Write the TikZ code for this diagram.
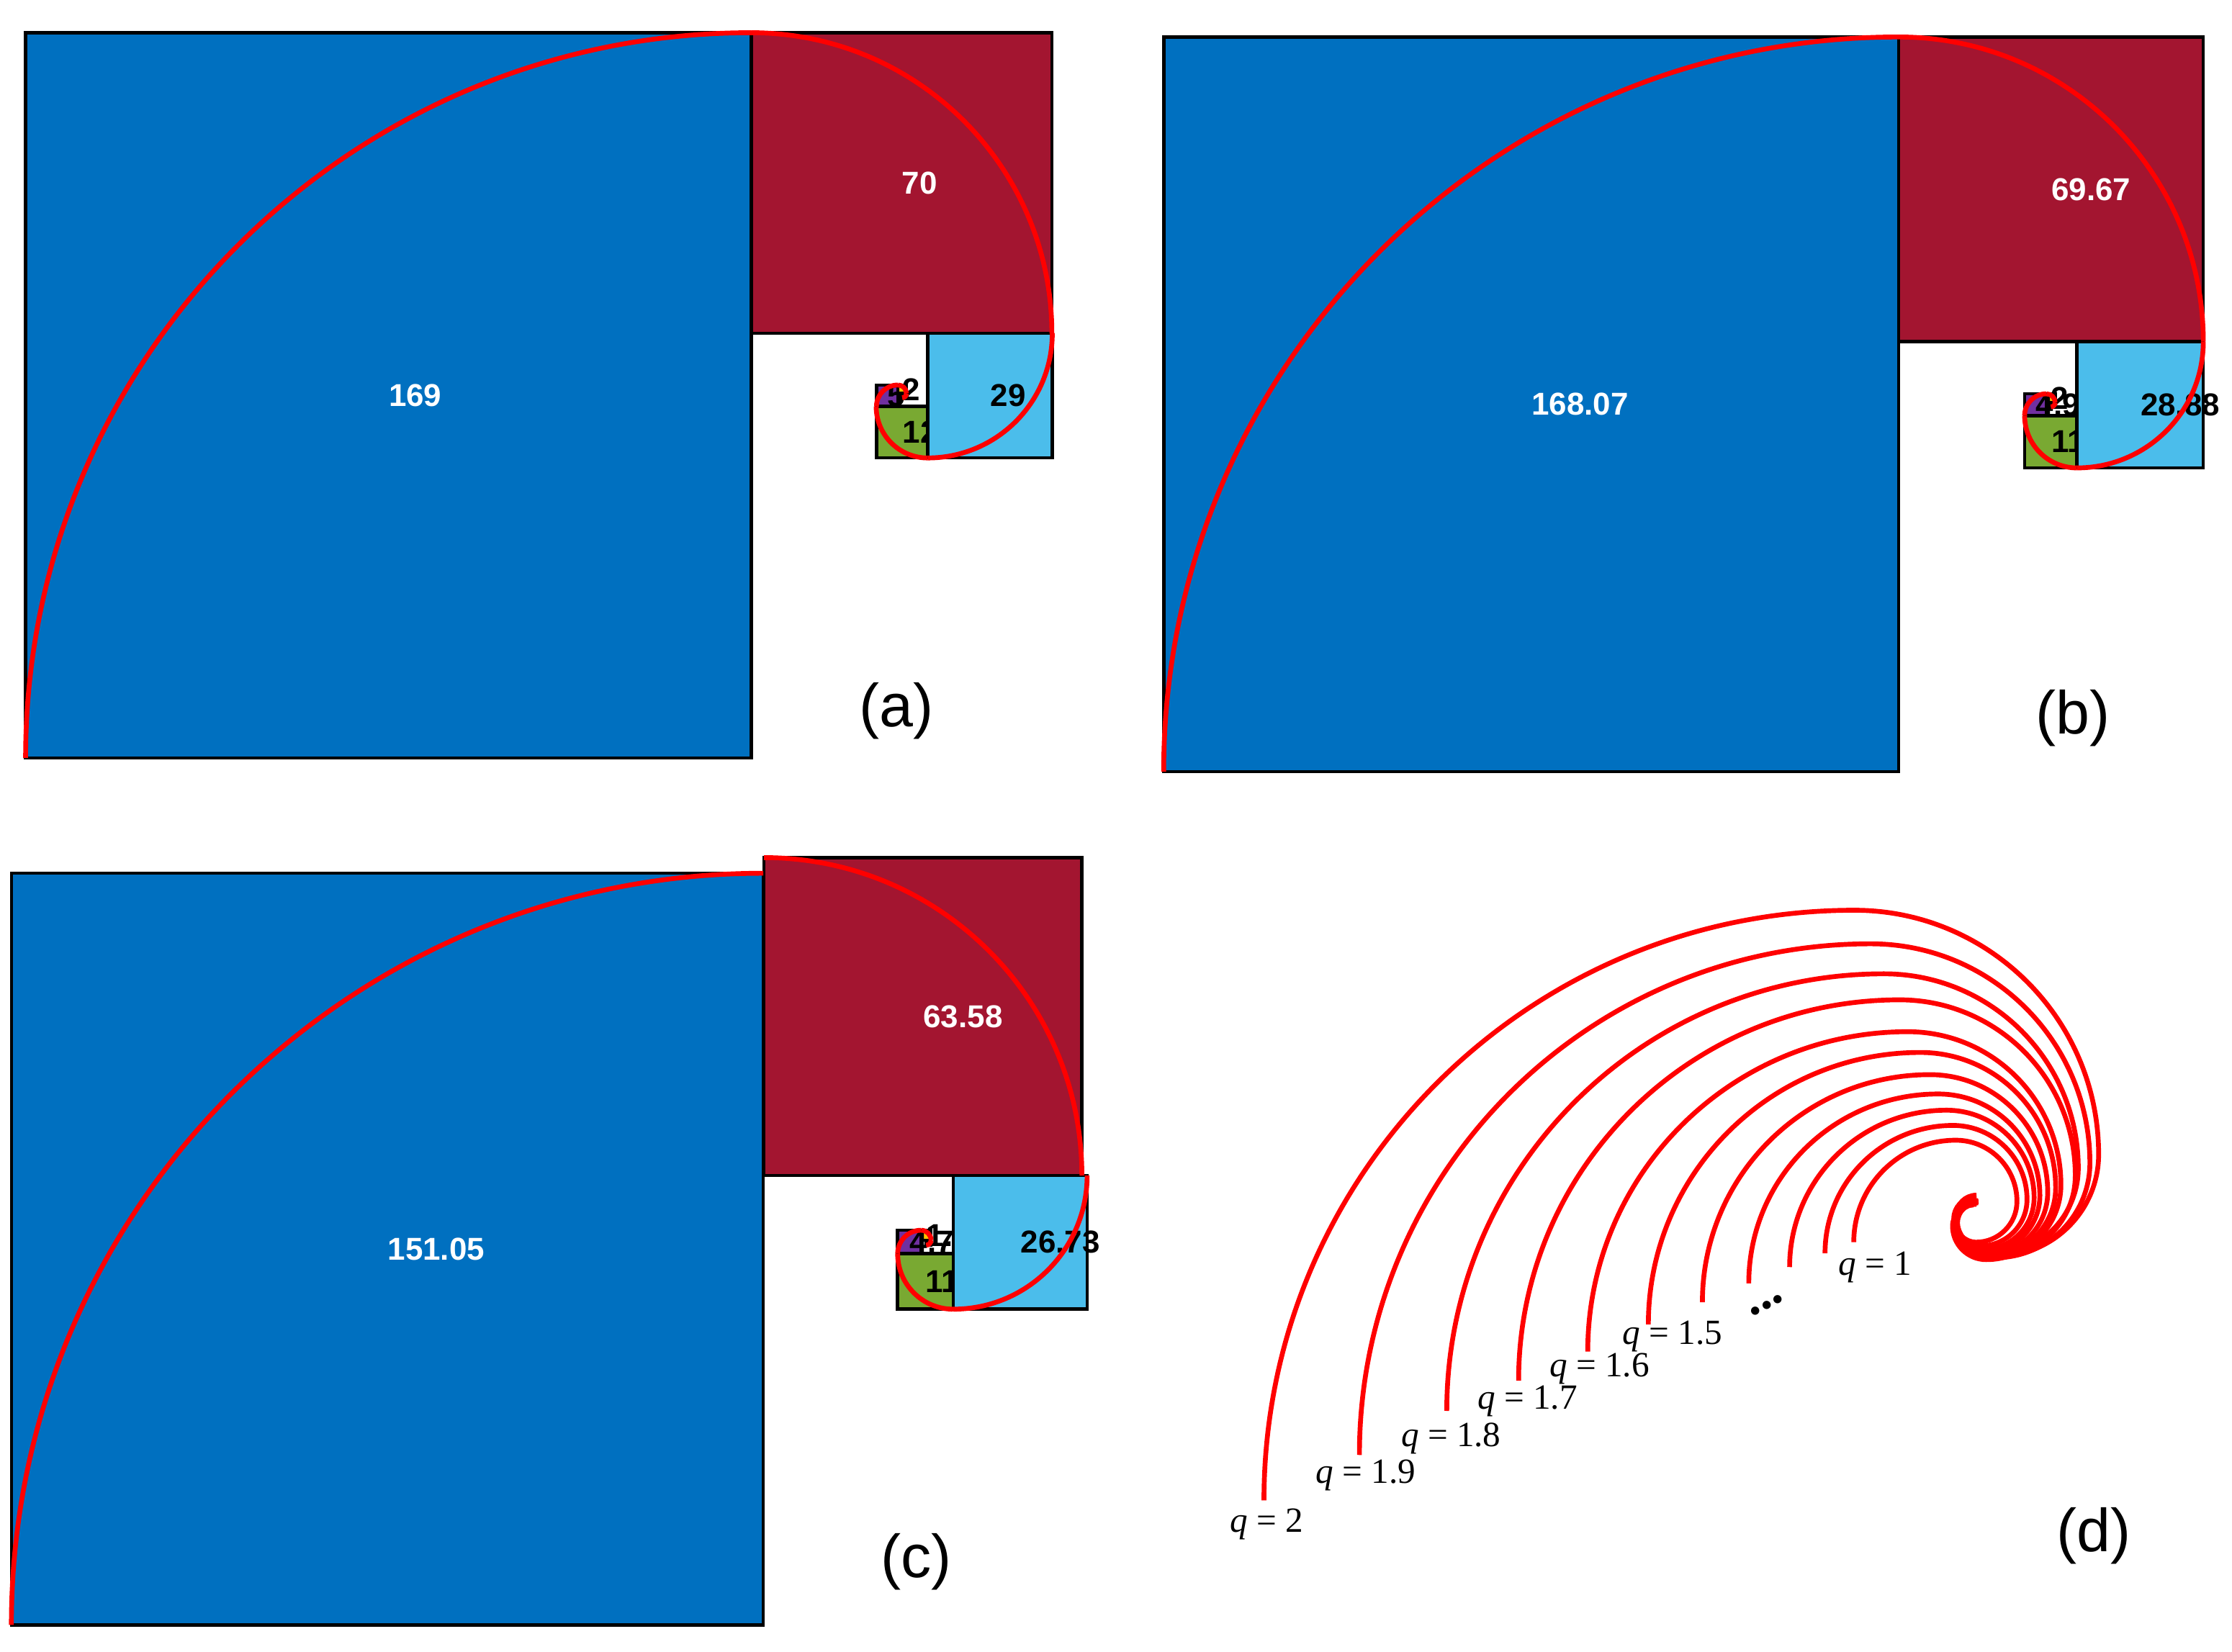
\documentclass[tikz,border=0pt]{standalone}
\usepackage{fontspec}
\setmainfont{Liberation Serif}
\newfontfamily\arialfont{Liberation Sans}

\definecolor{sqblue}{HTML}{0070C0}
\definecolor{sqred}{HTML}{A31530}
\definecolor{sqlight}{HTML}{4BBDEB}
\definecolor{sqgreen}{HTML}{79A932}
\definecolor{sqpurple}{HTML}{7030A0}
\definecolor{sqyellow}{HTML}{FFC000}
\definecolor{sqorange}{HTML}{ED7D31}

\begin{document}
\begin{tikzpicture}[x=0.19758mm, y=-0.19758mm,
    sqbox/.style={draw=black, line width=1.3pt},
    spiral/.style={draw=red, line width=1.9pt},
    sqlabel/.style={anchor=west, inner sep=0pt, font=\arialfont\bfseries\fontsize{12.5}{14}\selectfont},
    qlabel/.style={anchor=base, inner sep=0pt, font=\fontsize{14}{16}\selectfont},
    panel/.style={inner sep=0pt, font=\arialfont\fontsize{24}{28}\selectfont}]

    \useasboundingbox (0,0) rectangle (1569,1161.5);

    % squares, smallest first, each with its value
    \foreach \x/\y/\sz/\fc/\tc/\lab/\n in {
        634.2/276.7/3/sqorange/white/1/a1, 631.2/270.7/6/sqyellow/black/2/a2,
        616.1/270.7/15.1/sqpurple/black/5/a5, 616.1/285.8/36.2/sqgreen/black/12/a12,
        652.1/234.4/87.6/sqlight/black/29/a29, 528/23/211.4/sqred/white/70/a70,
        18/23/510/sqblue/white/169/a169,
        1441.6/283.05/3.07/sqorange/white/1/b1, 1438.5/276.9/6.15/sqyellow/black/2/b2,
        1423.2/276.9/15.3/sqpurple/black/4.99/b5, 1423.2/292.2/36.8/sqgreen/black/11.97/b12,
        1460/240.2/88.8/sqlight/black/28.88/b29, 1334.6/26/214.2/sqred/white/69.67/b70,
        818/26/516.6/sqblue/white/168.07/b169,
        651/872/3.5/sqorange/white/1/c1, 647.5/865/7/sqyellow/black/1.95/c2,
        631/865/16.5/sqpurple/black/4.7/c5, 631/881.5/39/sqgreen/black/11.31/c12,
        670.2/826.5/94/sqlight/black/26.73/c29, 537/603/223.5/sqred/white/63.58/c70,
        8/614/528.5/sqblue/white/151.05/c169} {
        \draw[sqbox, fill=\fc] (\x,\y) rectangle ++(\sz,\sz);
        \node[sqlabel, text=\tc] (\n) at (\x+\sz/2, \y+\sz/2) {\lab};
    }

    % quarter arcs: centre, radius, start angle
    \foreach \cx/\cy/\r/\a in {
        528/533/510/180, 528/234.4/211.4/270, 652.1/234.4/87.6/0, 652.1/285.8/36.2/90,
        631.2/285.8/15.1/180, 631.2/276.7/6/270, 634.2/276.7/3/0,
        1334.6/542.6/516.6/180, 1334.6/240.2/214.2/270, 1460/240.2/88.8/0, 1460/292.2/36.8/90,
        1438.5/292.2/15.3/180, 1438.5/283.05/6.15/270, 1441.6/283.05/3.07/0,
        536.5/1142.5/528.5/180, 537/826.5/223.5/270, 670.2/826.5/94/0, 670/881.5/39/90,
        647.5/881.5/16.5/180, 647.5/872/7/270, 651/872/3.5/0}
        \draw[spiral] (\cx,\cy) ++(\a:\r) arc[start angle=\a, delta angle=90, radius=\r];

    % (d) one spiral per q
    \foreach \q/\sx/\sy/\R in {2/888.5/1055/415, 1.9/955.6/1023/359.4, 1.8/1017/992/307.3,
        1.7/1067.5/970.8/267.8, 1.6/1116.1/950.3/224.9, 1.5/1158.7/931.2/191.2,
        1.4/1196.7/915.6/160, 1.3/1229.3/902.3/133.1, 1.2/1258/890.9/110.3,
        1.1/1282.9/881.2/89.9, 1/1303.1/873.4/71.7} {
        \pgfmathsetmacro{\den}{\q^4+3*\q^2+1}
        \pgfmathsetmacro{\rb}{\R*(\q^3+2*\q)/\den}
        \pgfmathsetmacro{\rc}{\R*(\q^2+1)/\den}
        \pgfmathsetmacro{\rd}{\R*\q/\den}
        \pgfmathsetmacro{\re}{\R/\den}
        \draw[spiral] (\sx,\sy) arc[start angle=180, delta angle=90, radius=\R]
            arc[start angle=270, delta angle=90, radius=\rb]
            arc[start angle=0, delta angle=90, radius=\rc]
            arc[start angle=90, delta angle=90, radius=\rd]
            arc[start angle=180, delta angle=90, radius=\re];
    }

    \node[qlabel] (q20) at (890.5,1077.5) {\textit{q} = 2};
    \node[qlabel] (q19) at (960,1042.7) {\textit{q} = 1.9};
    \node[qlabel] (q18) at (1020,1016.8) {\textit{q} = 1.8};
    \node[qlabel] (q17) at (1073.7,990.8) {\textit{q} = 1.7};
    \node[qlabel] (q16) at (1124.4,968.1) {\textit{q} = 1.6};
    \node[qlabel] (q15) at (1175.6,945.3) {\textit{q} = 1.5};
    \node[qlabel, rotate=27, font=\bfseries\fontsize{20}{22}\selectfont] (qdots) at (1243,920) {...};
    \node[qlabel] (q10) at (1318.3,896.7) {\textit{q} = 1};

    \node[panel] (pa) at (630,500) {(a)};
    \node[panel] (pb) at (1457,505) {(b)};
    \node[panel] (pc) at (644,1098) {(c)};
    \node[panel] (pd) at (1472,1080) {(d)};
\end{tikzpicture}
\end{document}
